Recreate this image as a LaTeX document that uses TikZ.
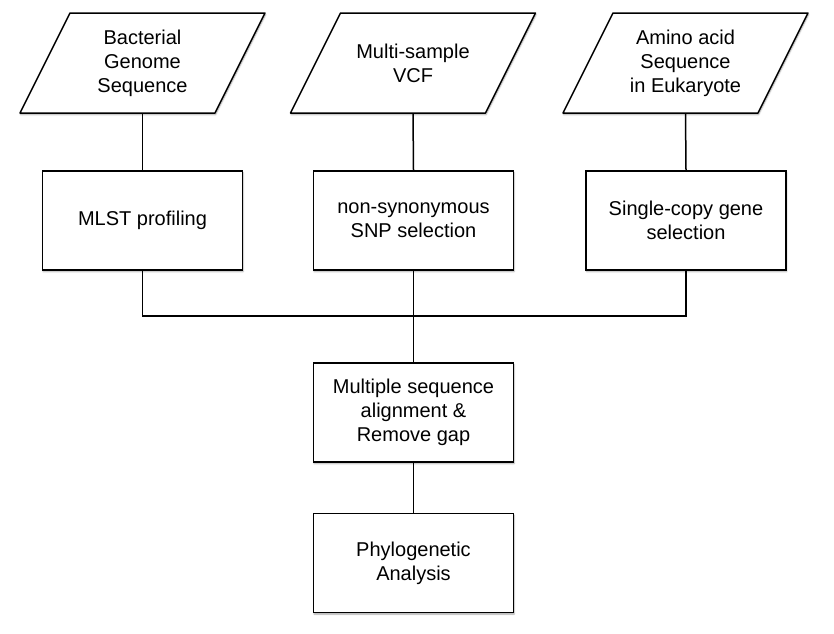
\documentclass[tikz,border=0pt]{standalone}
\usepackage{fontspec}
\setmainfont{Liberation Sans}
\usepackage{tikz}
\usetikzlibrary{shadows.blur,positioning}

\begin{document}
\begin{tikzpicture}[
					x = 1pt, y = -1pt,
					every node/.style = {font = \fontsize{20}{24}\selectfont, align = center},
					shadowed/.style = {blur shadow = {shadow xshift = 0.6pt, shadow yshift = -1.6pt,
							shadow blur radius = 1.5pt, shadow opacity = 35}},
					procbox/.style = {draw, fill = white, line width = 1.5pt, shadowed,
						minimum width = 200pt, minimum height = 99pt},
					databox/.style = {minimum width = 195pt, minimum height = 100pt},
					slanted/.style = {draw, fill = white, line width = 1.5pt, line join = round, shadowed},
					link/.style = {line width = 1.5pt}
					]

					\useasboundingbox (0,0) rectangle (834,633);

					% inputs
					\foreach \name/\cx/\txt in {genome/142.5/{Bacterial\\Genome\\Sequence},
							vcf/413/{Multi-sample\\VCF},
							amino/685.5/{Amino acid\\Sequence\\in Eukaryote}}{
						\path[slanted] (\cx-122.5,113) -- (\cx+72.5,113) -- (\cx+122.5,13) -- (\cx-72.5,13) -- cycle;
						\node[databox] (\name) at (\cx,63) {\txt};
					}

					% processing
					\node[procbox] (mlst) at (142.5,220.5) {MLST profiling};
					\node[procbox] (snp) at (413.5,220.5) {non-synonymous\\SNP selection};
					\node[procbox] (single) at (686,220.5) {Single-copy gene\\selection};

					\node[procbox] (msa) at (413.5,412.5) {Multiple sequence\\alignment \&\\Remove gap};
					\node[procbox] (phylo) at (413.5,563) {Phylogenetic\\Analysis};

					\coordinate (bus) at (413.5,316);

					\draw[link] (genome.south) -- (mlst.north);
					\draw[link] (vcf.south) -- (snp.north);
					\draw[link] (amino.south) -- (single.north);
					\draw[link] (mlst.south) |- (bus);
					\draw[link] (single.south) |- (bus);
					\draw[link] (snp.south) -- (msa.north);
					\draw[link] (msa.south) -- (phylo.north);

				\end{tikzpicture}
\end{document}
